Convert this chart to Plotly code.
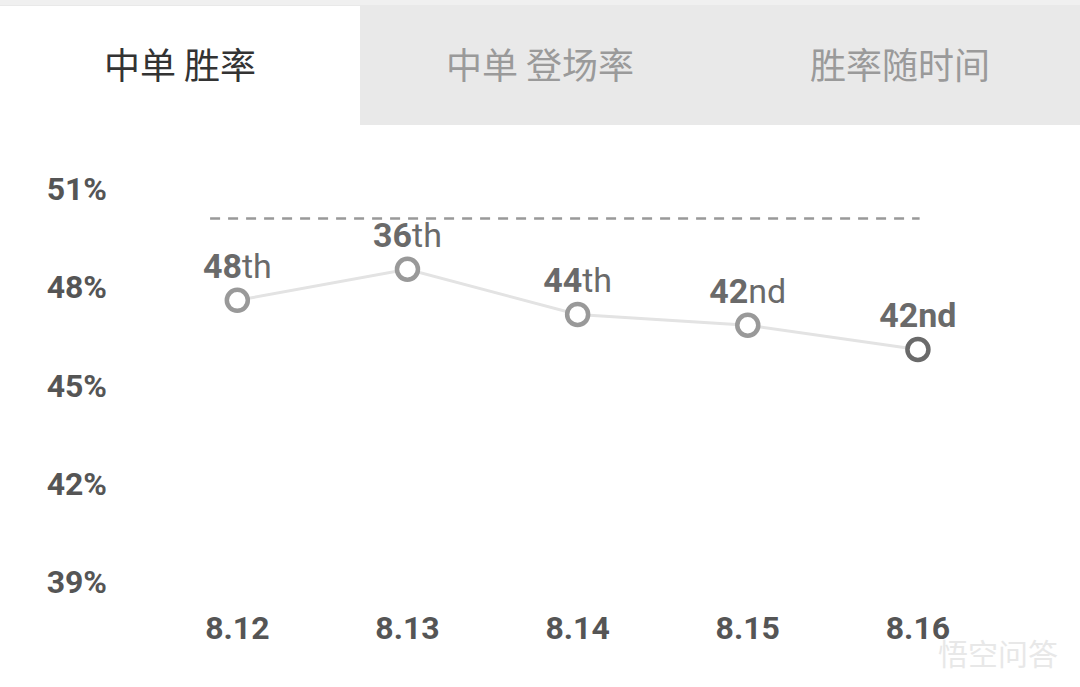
import plotly.graph_objects as go

patches = ["8.12", "8.13", "8.14", "8.15", "8.16"]
win_rate = [47.6, 48.55, 47.17, 46.84, 46.1]
rank_num = ["48", "36", "44", "42", "42"]
rank_suffix = ["th", "th", "th", "nd", "nd"]
avg_line = 50.1
y_ticks = [39, 42, 45, 48, 51]
y_tick_text = ["39%", "42%", "45%", "48%", "51%"]
tabs = ["中单 胜率", "中单 登场率", "胜率随时间"]

W, H = 1080, 687
L, R, T, B = 108, 77, 189, 105
pw, ph = W - L - R, H - T - B

def px(x):
    return (x - L) / pw

def py(y):
    return (H - B - y) / ph

labels = []
for i, (n, s) in enumerate(zip(rank_num, rank_suffix)):
    if i == len(rank_num) - 1:
        labels.append(f"<b>{n}{s}</b>")
    else:
        labels.append(f"<b>{n}</b>{s}")

marker_colors = ["#999999"] * (len(patches) - 1) + ["#6a6a6a"]

fig = go.Figure()
fig.add_trace(go.Scatter(
    x=list(range(len(patches))), y=win_rate,
    mode="lines+markers+text",
    text=labels, textposition="top center",
    textfont=dict(family="Roboto", size=34, color="#6a6a6a"),
    line=dict(color="#e3e3e3", width=3),
    marker=dict(symbol="circle", size=21, color="white",
                line=dict(color=marker_colors, width=4.5)),
    hoverinfo="skip", showlegend=False, cliponaxis=False,
))

shapes = [
    dict(type="line", xref="x", yref="y", x0=-0.16, x1=4.01, y0=avg_line, y1=avg_line,
         line=dict(color="#999999", width=2.5, dash="10px,8px"), layer="below"),
    dict(type="rect", xref="paper", yref="paper", x0=px(0), x1=px(W), y0=py(0), y1=py(125),
         fillcolor="#e9e9e9", line=dict(width=0), layer="below"),
    dict(type="rect", xref="paper", yref="paper", x0=px(0), x1=px(W), y0=py(0), y1=py(5),
         fillcolor="#f0f0f0", line=dict(width=0), layer="below"),
    dict(type="rect", xref="paper", yref="paper", x0=px(0), x1=px(360), y0=py(6), y1=py(125),
         fillcolor="#ffffff", line=dict(width=0), layer="below"),
]

annotations = []
tab_centers = [180, 540, 900]
tab_colors = ["#333333", "#9a9a9a", "#9a9a9a"]
for t, cx, c in zip(tabs, tab_centers, tab_colors):
    annotations.append(dict(text=t, xref="paper", yref="paper", x=px(cx), y=py(63),
                            showarrow=False, xanchor="center", yanchor="middle",
                            font=dict(family="Noto Sans CJK SC", size=36, color=c)))
annotations.append(dict(text="悟空问答", xref="paper", yref="paper", x=px(1060), y=py(652),
                        showarrow=False, xanchor="right", yanchor="middle",
                        font=dict(family="Noto Sans CJK SC", size=30, color="#e8e8e8")))

fig.update_layout(
    width=W, height=H,
    margin=dict(l=L, r=R, t=T, b=B, pad=0),
    paper_bgcolor="white", plot_bgcolor="white",
    shapes=shapes, annotations=annotations,
    xaxis=dict(range=[-0.76, 4.5], tickvals=list(range(len(patches))), ticktext=patches,
               showgrid=False, zeroline=False, showline=False, ticks="",
               tickfont=dict(family="Roboto", size=32, color="#555555", weight="bold"),
               ticklabelstandoff=24, fixedrange=True),
    yaxis=dict(range=[39, 51], tickvals=y_ticks, ticktext=y_tick_text,
               showgrid=False, zeroline=False, showline=False, ticks="",
               tickfont=dict(family="Roboto", size=32, color="#555555", weight="bold"),
               ticklabelstandoff=0, fixedrange=True),
)

fig.write_html("out.html", config={"displayModeBar": False},
               post_script="document.body.style.margin='0';")
